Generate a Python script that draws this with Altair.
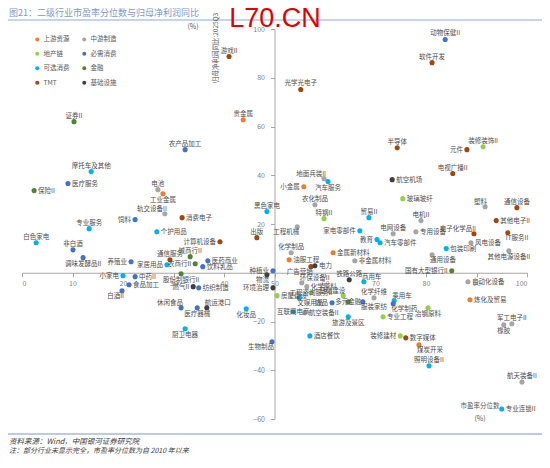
import altair as alt
import pandas as pd

# ---------------- data ----------------
names = [
    "游戏II", "动物保健II", "软件开发", "光学光电子", "贵金属", "证券II", "农产品加工", "摩托车及其他",
    "医疗服务", "保险II", "电池", "工业金属", "轨交设备II", "饲料", "专业服务", "个护用品",
    "消费电子", "黑色家电", "出版", "计算机设备", "白色家电", "非白酒", "调味发酵品II", "养殖业",
    "通信服务", "家居用品", "城商行II", "农商行II", "医药商业", "饮料乳品", "股份制银行II", "小家电",
    "中药II", "食品加工", "白酒II", "燃气II", "纺织制造", "种植业", "物流", "环境治理",
    "房屋建设", "休闲食品", "医疗器械", "航运港口", "化妆品", "厨卫电器", "生物制品", "酒店餐饮",
    "地面兵装II", "汽车服务", "小金属", "农化制品", "特钢II", "工程机械", "家电零部件", "半导体",
    "元件", "装修装饰II", "电视广播II", "航空机场", "玻璃玻纤", "塑料", "通信设备", "其他电子II",
    "电机II", "电网设备", "专用设备", "电子化学品II", "IT服务II", "贸易II", "教育", "汽车零部件",
    "包装印刷", "风电设备", "通用设备", "其他电源设备II", "国有大型银行II", "自动化设备", "化学纤维", "乘用车",
    "化学制药", "冶钢原料", "炼化及贸易", "专业工程", "装修建材", "数字媒体", "军工电子II", "橡胶",
    "煤炭开采", "照明设备II", "航天装备II", "专业连锁II", "化学制品", "金属新材料", "油服工程", "广告营销",
    "电力", "非金属材料", "铁路公路", "商用车", "环保设备II", "化学原料", "工程咨询服务II", "基础建设",
    "文娱用品", "饰品", "多元金融", "服装家纺", "互联网电商", "航空装备II", "旅游及景区",
]
groups = [
    "TMT", "必需消费", "TMT", "TMT", "上游资源", "金融", "必需消费", "可选消费",
    "必需消费", "金融", "中游制造", "上游资源", "中游制造", "必需消费", "可选消费", "可选消费",
    "TMT", "可选消费", "TMT", "TMT", "可选消费", "必需消费", "必需消费", "必需消费",
    "TMT", "可选消费", "金融", "金融", "必需消费", "必需消费", "金融", "可选消费",
    "必需消费", "必需消费", "必需消费", "基础设施", "必需消费", "必需消费", "基础设施", "基础设施",
    "地产链", "必需消费", "必需消费", "基础设施", "可选消费", "可选消费", "必需消费", "可选消费",
    "中游制造", "可选消费", "上游资源", "中游制造", "地产链", "中游制造", "可选消费", "TMT",
    "TMT", "地产链", "TMT", "基础设施", "地产链", "中游制造", "TMT", "TMT",
    "中游制造", "中游制造", "中游制造", "TMT", "TMT", "可选消费", "可选消费", "可选消费",
    "可选消费", "中游制造", "中游制造", "中游制造", "金融", "中游制造", "中游制造", "可选消费",
    "必需消费", "地产链", "上游资源", "地产链", "地产链", "TMT", "中游制造", "中游制造",
    "上游资源", "可选消费", "中游制造", "可选消费", "中游制造", "上游资源", "上游资源", "TMT",
    "基础设施", "中游制造", "基础设施", "可选消费", "中游制造", "中游制造", "地产链", "地产链",
    "可选消费", "必需消费", "金融", "必需消费", "可选消费", "中游制造", "可选消费",
]
pe_pct = [
    41.0, 83.8, 81.2, 55.2, 43.8, 10.3, 32.3, 13.7,
    9.1, 2.4, 26.9, 27.9, 28.3, 22.4, 13.3, 26.7,
    31.7, 48.5, 46.5, 39.2, 2.8, 10.1, 12.1, 21.6,
    29.3, 28.7, 33.3, 34.3, 36.8, 35.8, 31.5, 20.0,
    22.4, 21.2, 19.8, 33.9, 35.0, 49.7, 48.5, 49.7,
    50.5, 31.5, 34.7, 36.6, 44.4, 32.3, 49.5, 57.0,
    59.8, 60.6, 55.8, 58.0, 59.8, 54.5, 66.9, 74.3,
    88.1, 91.3, 85.3, 73.3, 75.4, 91.7, 98.0, 93.9,
    79.0, 73.5, 78.0, 89.5, 96.2, 68.7, 70.3, 70.9,
    84.0, 88.9, 81.2, 96.4, 85.1, 88.3, 69.7, 73.7,
    73.5, 80.4, 88.7, 71.5, 74.9, 76.0, 97.0, 95.4,
    78.6, 80.6, 99.0, 95.0, 53.3, 61.6, 52.9, 57.2,
    58.0, 65.9, 64.8, 67.7, 55.4, 56.4, 57.2, 63.6,
    54.9, 61.4, 64.6, 67.5, 53.7, 56.0, 64.6,
]
profit_yoy = [
    88.7, 95.7, 86.2, 75.2, 62.8, 62.0, 50.5, 41.5,
    36.6, 33.7, 34.1, 32.4, 24.2, 21.8, 18.1, 16.8,
    22.6, 25.1, 14.4, 12.7, 12.3, 9.4, 6.2, 4.5,
    5.3, 3.3, 6.6, 3.7, 4.9, 2.5, -0.4, -1.2,
    -1.6, -4.9, -7.4, -5.7, -6.2, 0.8, -0.8, -6.2,
    -9.4, -14.4, -14.4, -14.4, -14.8, -23.0, -28.3, -25.9,
    38.6, 37.4, 35.3, 27.9, 22.2, 18.9, 17.2, 51.3,
    50.5, 51.7, 40.7, 38.2, 30.4, 27.1, 26.7, 21.4,
    21.4, 16.0, 16.8, 16.0, 16.4, 22.6, 13.6, 12.3,
    9.9, 12.3, 7.4, 9.0, 0.8, -3.7, -10.3, -11.5,
    -12.7, -14.4, -11.1, -18.1, -25.9, -26.7, -20.9, -21.4,
    -29.6, -38.2, -44.8, -55.9, 8.2, 8.2, 5.3, 2.5,
    2.9, 4.9, -2.9, -3.7, -4.1, -5.7, -8.2, -9.4,
    -10.3, -12.3, -11.9, -11.9, -16.0, -16.4, -18.1,
]
# label placement (a=above, b=below, l=left, r=right, c=on dot, al/ar/bl/br = diagonal)
label_pos = [
    "a", "a", "a", "a", "a", "a", "a", "a",
    "r", "r", "a", "b", "al", "l", "a", "r",
    "r", "a", "a", "l", "a", "a", "b", "l",
    "a", "l", "a", "l", "r", "r", "b", "l",
    "r", "r", "bl", "l", "r", "l", "bl", "l",
    "r", "al", "b", "ar", "b", "b", "bl", "r",
    "al", "b", "l", "a", "a", "bl", "l", "a",
    "l", "a", "a", "r", "r", "al", "a", "r",
    "a", "a", "r", "al", "br", "a", "l", "r",
    "r", "r", "br", "b", "l", "r", "a", "ar",
    "br", "b", "r", "r", "l", "r", "a", "b",
    "br", "a", "a", "r", "a", "r", "r", "bl",
    "r", "r", "a", "ar", "ar", "r", "c", "al",
    "br", "l", "c", "br", "c", "r", "b",
]

cat_colors = {
    "上游资源": "#ED7D31", "中游制造": "#A5A5A5", "地产链": "#92D050", "必需消费": "#4472C4",
    "可选消费": "#00B0F0", "金融": "#548235", "TMT": "#9E480E", "基础设施": "#3F3F3F",
}
# legend is filled column by column, so list the first column first
legend_order = ["上游资源", "地产链", "可选消费", "TMT", "中游制造", "必需消费", "金融", "基础设施"]

df = pd.DataFrame({"name": names, "group": groups, "x": pe_pct, "y": profit_yoy, "pos": label_pos})

# ---------------- layout ----------------
W, H = 505, 390
FONT = "Noto Sans CJK SC"
x_off = -(H * 60 / 160)          # x axis crosses at y = 0
y_off = -(W / 2)                 # y axis crosses at x = 50

xs = alt.Scale(domain=[0, 100], nice=False, zero=False)
ys = alt.Scale(domain=[-60, 100], nice=False, zero=False)

base = alt.Chart(df)

points = base.mark_circle(size=26, opacity=1).encode(
    x=alt.X("x:Q", scale=xs, title=None,
            axis=alt.Axis(values=list(range(0, 101, 10)), offset=x_off, grid=False,
                          domainColor="#A6A6A6", tickColor="#A6A6A6", tickSize=4,
                          labelColor="#7F7F7F", labelFontSize=7, labelFont=FONT, labelPadding=3,
                          labelOverlap=False)),
    y=alt.Y("y:Q", scale=ys, title=None,
            axis=alt.Axis(values=[-60, -40, -20, 20, 40, 60, 80, 100], offset=y_off, grid=False,
                          domainColor="#A6A6A6", tickColor="#A6A6A6", tickSize=4,
                          labelColor="#7F7F7F", labelFontSize=7, labelFont=FONT, labelPadding=6)),
    color=alt.Color("group:N",
                    scale=alt.Scale(domain=legend_order, range=[cat_colors[c] for c in legend_order]),
                    legend=alt.Legend(orient="none", legendX=12, legendY=7, columns=2, title=None,
                                      symbolType="circle", symbolSize=16, labelFontSize=6.5,
                                      labelFont=FONT, labelColor="#595959", rowPadding=7.5,
                                      columnPadding=11, labelOffset=3, padding=0)),
)

placements = {
    "a": dict(align="center", baseline="bottom", dx=0, dy=-3),
    "b": dict(align="center", baseline="top", dx=0, dy=3),
    "l": dict(align="right", baseline="middle", dx=-4, dy=0),
    "r": dict(align="left", baseline="middle", dx=4, dy=0),
    "c": dict(align="center", baseline="middle", dx=0, dy=0),
    "al": dict(align="right", baseline="bottom", dx=2, dy=-2),
    "ar": dict(align="left", baseline="bottom", dx=-2, dy=-2),
    "bl": dict(align="right", baseline="top", dx=2, dy=2),
    "br": dict(align="left", baseline="top", dx=-2, dy=2),
}

label_layers = []
for code, kw in placements.items():
    label_layers.append(
        base.transform_filter(alt.datum.pos == code).mark_text(
            font=FONT, fontSize=6.5, color="#4D4D4D", **kw
        ).encode(x=alt.X("x:Q", scale=xs), y=alt.Y("y:Q", scale=ys), text="name:N")
    )

one = pd.DataFrame({"k": [0]})


def txt(s, x, y, **kw):
    kw.setdefault("font", FONT)
    return alt.Chart(one).mark_text(**kw).encode(
        x=alt.value(x), y=alt.value(y), text=alt.value(s))


def hline(y, x1, x2, color, width):
    return alt.Chart(one).mark_rule(color=color, strokeWidth=width).encode(
        x=alt.value(x1), x2=alt.value(x2), y=alt.value(y))


decor = [
    txt("图21：二级行业市盈率分位数与归母净利润同比", -13, -16, fontSize=9, color="#7E98C6", align="left", baseline="middle"),
    hline(-9, -14, 520, "#8EA9DB", 1),
    txt("L70.CN", 253, -10, fontSize=27, color="#E00000", font="Liberation Sans", align="center", baseline="middle"),
    txt("(%)", 171, -2, fontSize=7, color="#595959", align="center", baseline="middle"),
    txt("归母净利润同比:2025Q3", 194, 19, fontSize=6.5, color="#595959", align="center", baseline="middle", angle=270),
    txt("市盈率分位数", 458, 377, fontSize=6.5, color="#595959", align="center", baseline="middle"),
    txt("(%)", 458, 390, fontSize=7, color="#595959", align="center", baseline="middle"),
    hline(405, -14, 520, "#A9B8D6", 1.5),
    txt("资料来源：Wind，中国银河证券研究院", -13, 413, fontSize=7.5, color="#404040", align="left", baseline="middle", fontStyle="italic"),
    txt("注：部分行业未显示完全，市盈率分位数为自 2010 年以来", -13, 422, fontSize=7, color="#404040", align="left", baseline="middle", fontStyle="italic"),
]

chart = alt.layer(points, *label_layers, *decor).properties(
    width=W, height=H,
    padding={"left": 14, "top": 21, "right": 15, "bottom": 35},
    autosize=alt.AutoSizeParams(type="none"),
).configure_view(stroke=None)

chart.save("out.html", embed_options={"renderer": "svg", "actions": False})
